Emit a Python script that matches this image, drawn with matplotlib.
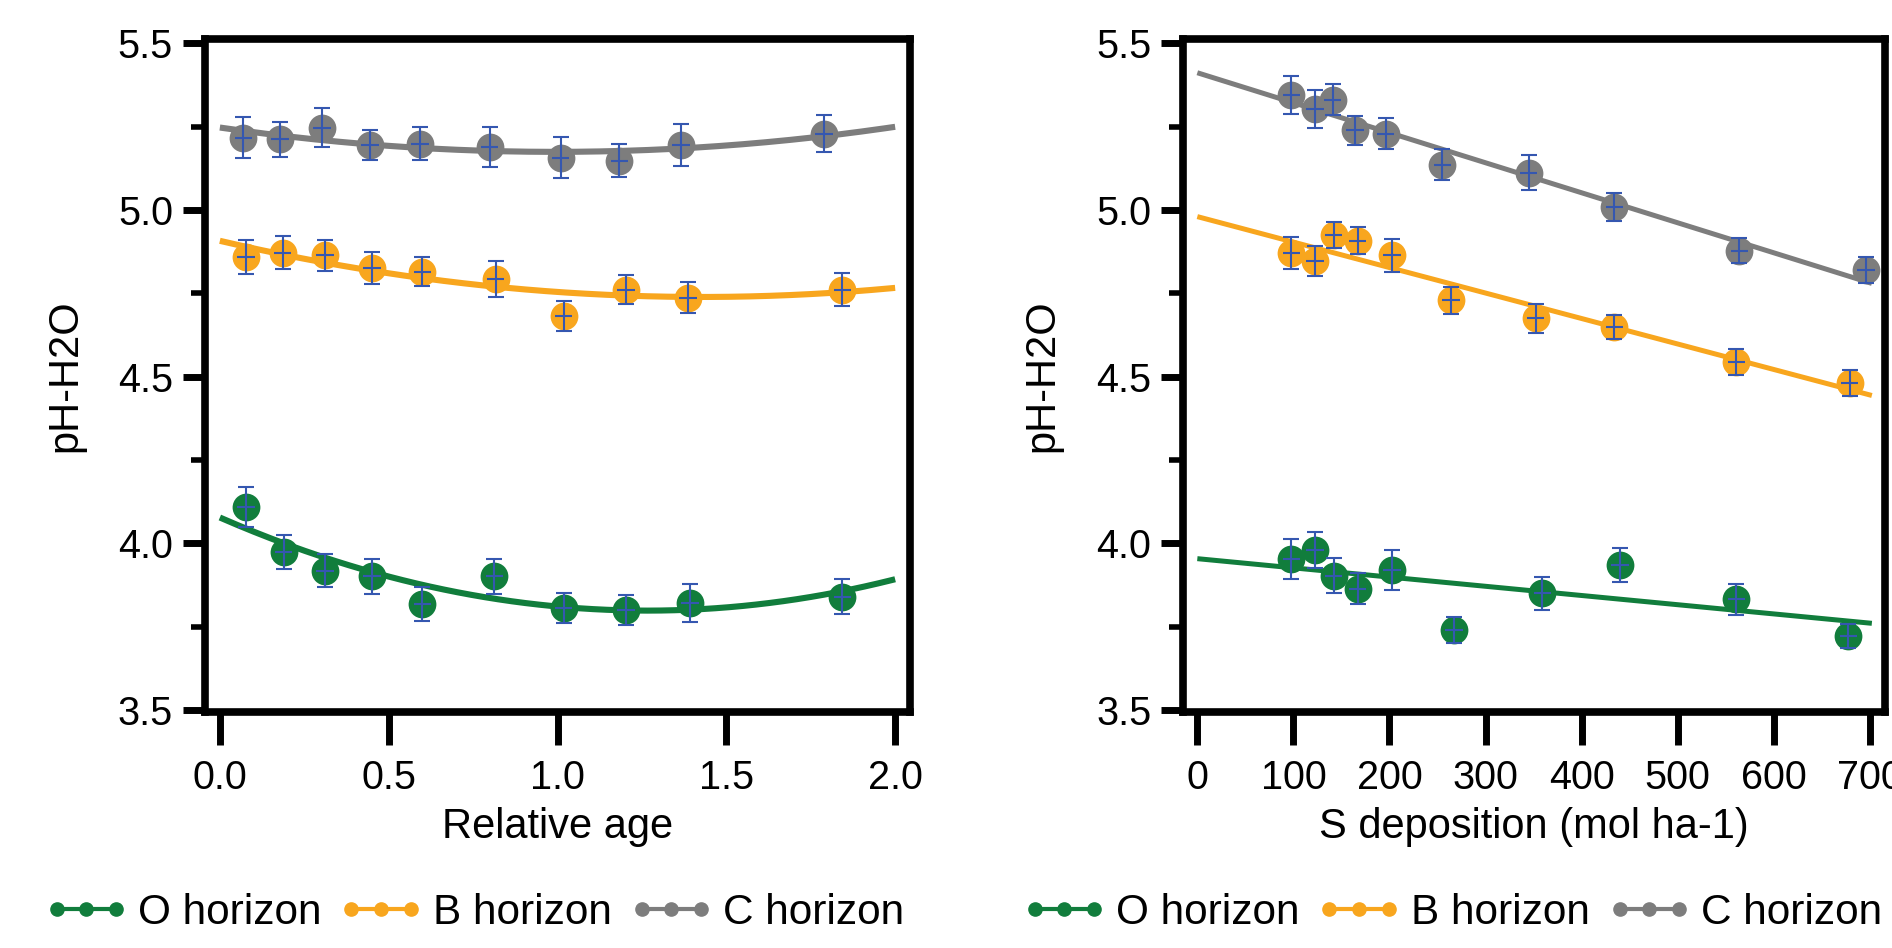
import numpy as np
import matplotlib
matplotlib.use("Agg")
import matplotlib.pyplot as plt
from matplotlib.lines import Line2D
from matplotlib.legend_handler import HandlerLine2D
from matplotlib.ticker import MultipleLocator

plt.rcParams['font.family'] = ['Liberation Sans', 'DejaVu Sans']

# ---------------- data ----------------
series_names = ["O horizon", "B horizon", "C horizon"]

# Left panel: relative age
age_O = [0.077, 0.189, 0.311, 0.451, 0.600, 0.813, 1.018, 1.203, 1.392, 1.844]
ph_age_O = [4.109, 3.974, 3.918, 3.901, 3.819, 3.901, 3.806, 3.801, 3.821, 3.840]
err_age_O = [0.061, 0.050, 0.049, 0.053, 0.051, 0.052, 0.046, 0.045, 0.056, 0.053]

age_B = [0.077, 0.186, 0.311, 0.451, 0.600, 0.817, 1.018, 1.203, 1.386, 1.844]
ph_age_B = [4.859, 4.872, 4.864, 4.826, 4.815, 4.793, 4.682, 4.761, 4.737, 4.761]
err_age_B = [0.050, 0.050, 0.046, 0.047, 0.043, 0.053, 0.046, 0.043, 0.046, 0.049]

age_C = [0.070, 0.178, 0.302, 0.444, 0.593, 0.799, 1.009, 1.183, 1.365, 1.790]
ph_age_C = [5.217, 5.212, 5.247, 5.195, 5.199, 5.189, 5.157, 5.148, 5.195, 5.229]
err_age_C = [0.062, 0.052, 0.059, 0.046, 0.050, 0.059, 0.062, 0.050, 0.064, 0.056]

age_xerr = 0.026

# Right panel: S deposition
dep_O = [98, 122.5, 142, 167, 202.5, 267, 359, 440, 561, 677.5]
ph_dep_O = [3.954, 3.980, 3.903, 3.864, 3.921, 3.740, 3.850, 3.934, 3.832, 3.723]
err_dep_O = [0.060, 0.054, 0.053, 0.046, 0.060, 0.040, 0.050, 0.051, 0.047, 0.036]

dep_B = [98, 122.5, 142, 167, 202.5, 264, 352, 434, 561, 679]
ph_dep_B = [4.870, 4.847, 4.925, 4.908, 4.864, 4.729, 4.675, 4.648, 4.544, 4.481]
err_dep_B = [0.048, 0.045, 0.038, 0.040, 0.050, 0.040, 0.044, 0.036, 0.040, 0.038]

dep_C = [98, 122.5, 141, 164, 196, 255, 345, 434, 564, 696]
ph_dep_C = [5.345, 5.303, 5.331, 5.239, 5.229, 5.136, 5.112, 5.009, 4.878, 4.820]
err_dep_C = [0.057, 0.058, 0.047, 0.043, 0.047, 0.046, 0.052, 0.043, 0.037, 0.040]

dep_xerr = 9.0

age_ticks = [0.0, 0.5, 1.0, 1.5, 2.0]
dep_ticks = [0, 100, 200, 300, 400, 500, 600, 700]
ph_ticks = [3.5, 4.0, 4.5, 5.0, 5.5]

# ---------------- style ----------------
colors = ["#117d3c", "#f8a61e", "#7d7d7d"]
err_color = "#3557b0"

W, H = 1892, 948
fig = plt.figure(figsize=(W / 100, H / 100), dpi=100)

bottom = 1 - 712 / H
height = (712 - 39.3) / H
ax1 = fig.add_axes([205 / W, bottom, 705 / W, height])
ax2 = fig.add_axes([1183.3 / W, bottom, 702 / W, height])


def draw_panel(ax, xs, ys, es, xerr, deg, xfit, fit_lw):
    for x, y, e, c in zip(xs, ys, es, colors):
        x = np.asarray(x, float)
        y = np.asarray(y, float)
        coef = np.polyfit(x, y, deg)
        ax.plot(xfit, np.polyval(coef, xfit), color=c, lw=fit_lw,
                solid_capstyle='butt', zorder=2)
        ax.plot(x, y, 'o', color=c, ms=20, mec='none', zorder=3)
        ax.errorbar(x, y, yerr=e, fmt='none', ecolor=err_color,
                    elinewidth=1.5, capsize=6, capthick=1.5, zorder=4)
        ax.errorbar(x, y, xerr=xerr, fmt='none', ecolor=err_color,
                    elinewidth=1.5, capsize=0, zorder=4)


draw_panel(ax1, [age_O, age_B, age_C], [ph_age_O, ph_age_B, ph_age_C],
           [err_age_O, err_age_B, err_age_C], age_xerr, 2,
           np.linspace(0, 2.0, 200), 4.4)
draw_panel(ax2, [dep_O, dep_B, dep_C], [ph_dep_O, ph_dep_B, ph_dep_C],
           [err_dep_O, err_dep_B, err_dep_C], dep_xerr, 1,
           np.linspace(0, 702, 50), 3.6)

ax1.set_xlim(-0.044, 2.044)
ax2.set_xlim(-14.6, 716)

for ax, xt, xl in [(ax1, age_ticks, "Relative age"),
                   (ax2, dep_ticks, "S deposition (mol ha-1)")]:
    ax.set_ylim(3.494, 5.512)
    ax.set_xticks(xt)
    if xt is age_ticks:
        ax.set_xticklabels([f"{v:.1f}" for v in xt])
    else:
        ax.set_xticklabels([f"{v:d}" for v in xt])
    ax.set_yticks(ph_ticks)
    ax.set_yticklabels([f"{v:.1f}" for v in ph_ticks])
    ax.yaxis.set_minor_locator(MultipleLocator(0.25))
    for s in ax.spines.values():
        s.set_linewidth(5.5)
        s.set_color('black')
    ax.tick_params(axis='x', direction='out', length=24, width=5, pad=10,
                   labelsize=28.5)
    ax.tick_params(axis='y', which='major', direction='out', length=16,
                   width=5, pad=7, labelsize=28.5)
    ax.tick_params(axis='y', which='minor', direction='out', length=10,
                   width=4)
    ax.set_ylabel("pH-H2O", fontsize=30)
    ax.yaxis.label.set_verticalalignment('center')
    ax.set_xlabel(xl, fontsize=30)
    ax.xaxis.label.set_verticalalignment('center')

ax1.yaxis.set_label_coords((65 - 205) / 705, 0.5)
ax2.yaxis.set_label_coords((1042 - 1183.3) / 702, 0.5)
ax1.xaxis.set_label_coords(0.5, (712 - 827) / 672.7)
ax2.xaxis.set_label_coords(0.5, (712 - 827) / 672.7)

handles = [Line2D([0], [0], color=c, lw=3, marker='o', ms=9.5, mec=c)
           for c in colors]
hmap = {h: HandlerLine2D(marker_pad=0, numpoints=3) for h in handles}
for x0 in (56.5, 1034.5):
    fig.legend(handles, series_names, loc='center left',
               bbox_to_anchor=(x0 / W, 1 - 913 / H), ncol=3, frameon=False,
               borderpad=0, borderaxespad=0, handlelength=1.40,
               handletextpad=0.52, columnspacing=0.71,
               fontsize=30.5, handler_map=hmap)

fig.savefig("out.png", dpi=100)
